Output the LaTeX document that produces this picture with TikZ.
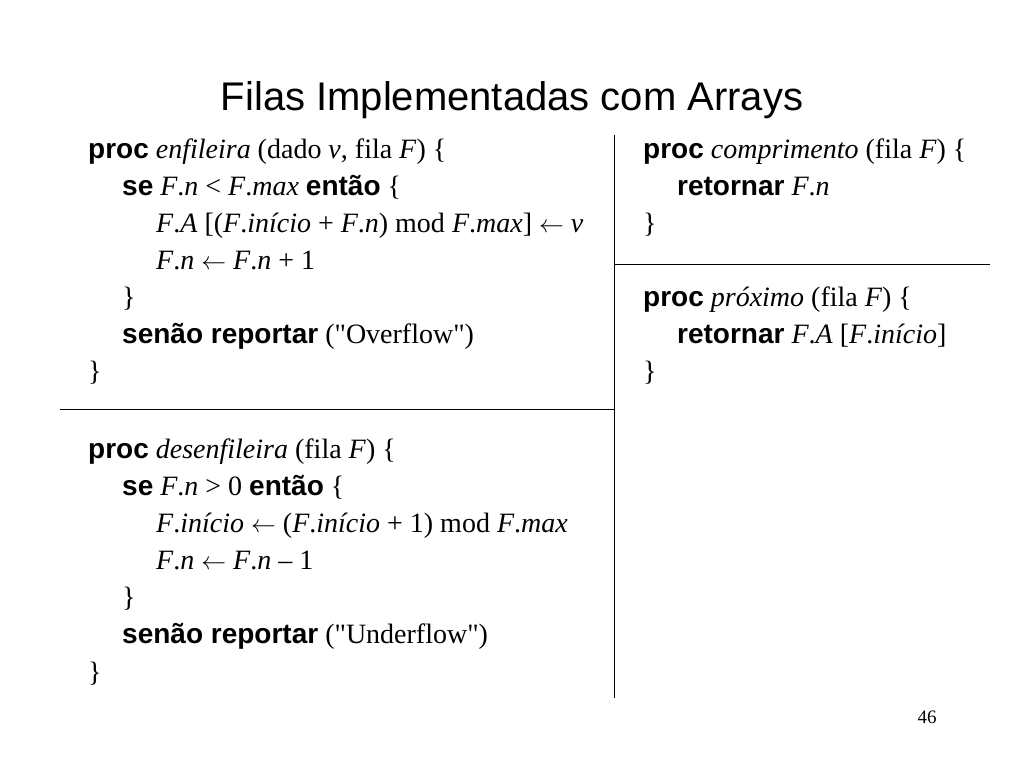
\documentclass[tikz,border=0pt]{standalone}
\usepackage{fontspec}
\setmainfont{Liberation Serif}
\setsansfont{Liberation Sans}
\newfontfamily\plainserif{Liberation Serif}
\newcommand{\kw}[1]{{\sffamily\bfseries #1}}
\newcommand{\larr}{$\leftarrow$}
\newcommand{\qq}{{\plainserif"}}
\begin{document}
\begin{tikzpicture}[x=1pt,y=-1pt,
  code/.style={anchor=base west,inner sep=0pt,font=\fontsize{28}{32}\selectfont},
  rule/.style={line width=0.9pt}]
\useasboundingbox[fill=white] (0,0) rectangle (1024,768);
\node[anchor=base,inner sep=0pt,font=\sffamily\fontsize{40}{46}\selectfont] (title) at (512,110) {Filas Implementadas com Arrays};
% left column
\node[code] (l1) at (88,158) {\kw{proc} \textit{enfileira} (dado \textit{v}, fila \textit{F}) \{};
\node[code] (l2) at (122,195) {\kw{se} \textit{F}.\textit{n} < \textit{F}.\textit{max} \kw{então} \{};
\node[code] (l3) at (156,232) {\textit{F}.\textit{A} [(\textit{F}.\textit{início} + \textit{F}.\textit{n}) mod \textit{F}.\textit{max}] \larr{} \textit{v}};
\node[code] (l4) at (156,269) {\textit{F}.\textit{n} \larr{} \textit{F}.\textit{n} + 1};
\node[code] (l5) at (122,306) {\}};
\node[code] (l6) at (122,343) {\kw{senão reportar} (\qq Overflow\qq)};
\node[code] (l7) at (88,380) {\}};
\node[code] (m1) at (88,458) {\kw{proc} \textit{desenfileira} (fila \textit{F}) \{};
\node[code] (m2) at (122,495) {\kw{se} \textit{F}.\textit{n} > 0 \kw{então} \{};
\node[code] (m3) at (156,532) {\textit{F}.\textit{início} \larr{} (\textit{F}.\textit{início} + 1) mod \textit{F}.\textit{max}};
\node[code] (m4) at (156,569) {\textit{F}.\textit{n} \larr{} \textit{F}.\textit{n} – 1};
\node[code] (m5) at (122,606) {\}};
\node[code] (m6) at (122,643) {\kw{senão reportar} (\qq Underflow\qq)};
\node[code] (m7) at (88,681) {\}};
% right column
\node[code] (r1) at (643,158) {\kw{proc} \textit{comprimento} (fila \textit{F}) \{};
\node[code] (r2) at (677,195) {\kw{retornar} \textit{F}.\textit{n}};
\node[code] (r3) at (643,232) {\}};
\node[code] (s1) at (643,306) {\kw{proc} \textit{próximo} (fila \textit{F}) \{};
\node[code] (s2) at (677,343) {\kw{retornar} \textit{F}.\textit{A} [\textit{F}.\textit{início}]};
\node[code] (s3) at (643,380) {\}};
% rules
\coordinate (vt) at (614,135);
\coordinate (vb) at (614,698);
\coordinate (hl1) at (60,409);
\coordinate (hl2) at (614,409);
\coordinate (hr1) at (614,264);
\coordinate (hr2) at (990,264);
\draw[rule] (vt) -- (vb);
\draw[rule] (hl1) -- (hl2);
\draw[rule] (hr1) -- (hr2);
\node[anchor=base,inner sep=0pt,font=\fontsize{19}{22}\selectfont] (pg) at (927,723) {46};
\end{tikzpicture}
\end{document}
